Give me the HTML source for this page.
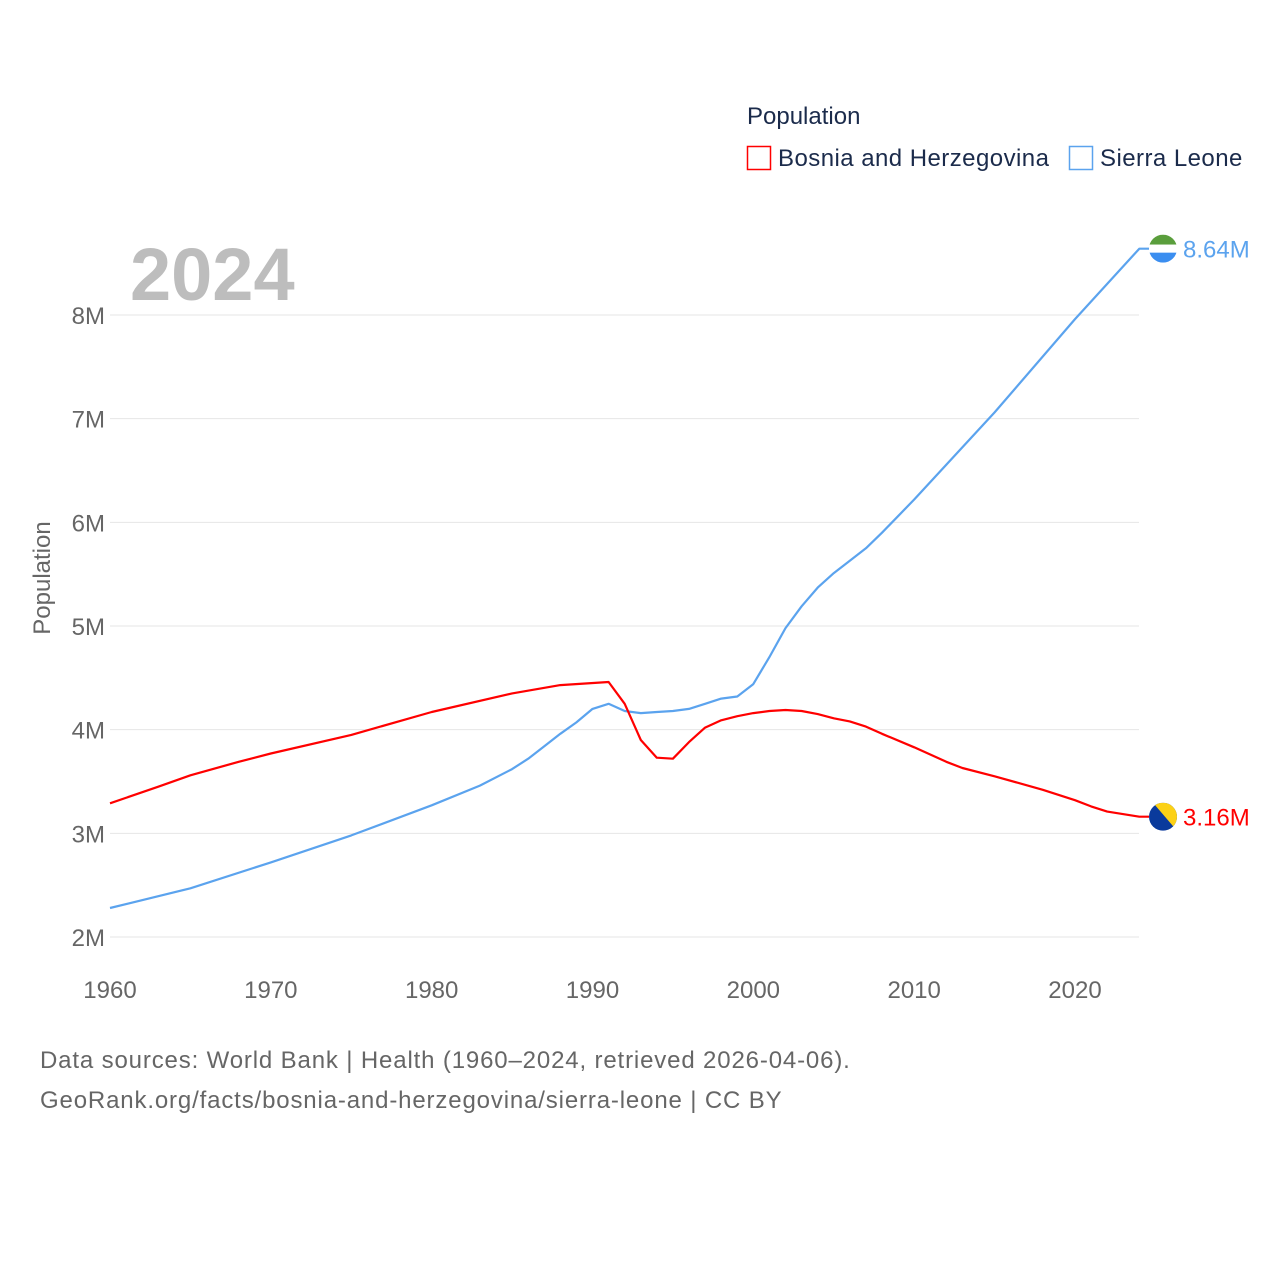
<!DOCTYPE html>
<html><head><meta charset="utf-8"><style>
body{margin:0;background:#fff;font-family:"Liberation Sans",sans-serif}
svg text{font-family:"Liberation Sans",sans-serif}
</style></head><body>
<svg id="chart" width="1280" height="1280">
<text x="747" y="124" font-size="24" fill="#1b2b4b">Population</text>
<g><rect x="747.5" y="146.5" width="23" height="23" fill="none" stroke="#f00" stroke-width="1.5"/><text x="778" y="166" font-size="24" fill="#1b2b4b" letter-spacing="0.45">Bosnia and Herzegovina</text></g>
<g><rect x="1069.5" y="146.5" width="23" height="23" fill="none" stroke="#5ba3ee" stroke-width="1.5"/><text x="1100" y="166" font-size="24" fill="#1b2b4b" letter-spacing="0.45">Sierra Leone</text></g>
<text x="130" y="300" font-size="74" font-weight="bold" fill="#bdbdbd">2024</text>
<text transform="translate(50,578) rotate(-90)" text-anchor="middle" font-size="24" fill="#666">Population</text>
<g id="grid"></g><g id="series"></g>
<text x="40" y="1068" font-size="24" fill="#666" letter-spacing="0.85">Data sources: World Bank | Health (1960–2024, retrieved 2026-04-06).</text>
<text x="40" y="1108" font-size="24" fill="#666" letter-spacing="0.85">GeoRank.org/facts/bosnia-and-herzegovina/sierra-leone | CC BY</text>
</svg>
<script>
const yTicks=[2,3,4,5,6,7,8];
const xTicks=[1960,1970,1980,1990,2000,2010,2020];
const bihYears=[1960,1963,1965,1968,1970,1975,1980,1985,1988,1991,1992,1993,1994,1995,1996,1997,1998,1999,2000,2001,2002,2003,2004,2005,2006,2007,2008,2010,2012,2013,2015,2018,2020,2021,2022,2024];
const bihValues=[3.29,3.45,3.56,3.69,3.77,3.95,4.17,4.35,4.43,4.46,4.25,3.9,3.73,3.72,3.88,4.02,4.09,4.13,4.16,4.18,4.19,4.18,4.15,4.11,4.08,4.03,3.96,3.83,3.69,3.63,3.55,3.42,3.32,3.26,3.21,3.16];
const sleYears=[1960,1965,1970,1975,1980,1983,1985,1986,1987,1988,1989,1990,1991,1992,1993,1994,1995,1996,1997,1998,1999,2000,2001,2002,2003,2004,2005,2006,2007,2008,2010,2015,2020,2024];
const sleValues=[2.28,2.47,2.72,2.98,3.27,3.46,3.62,3.72,3.84,3.96,4.07,4.2,4.25,4.18,4.16,4.17,4.18,4.2,4.25,4.3,4.32,4.44,4.7,4.98,5.19,5.37,5.51,5.63,5.75,5.9,6.22,7.06,7.96,8.64];
const endLabels=["3.16M","8.64M"];
const X=y=>110+(y-1960)*(1075-110)/60;
const Y=v=>937-(v-2)*(937-315)/6;
const NS="http://www.w3.org/2000/svg";
function mk(t,a,p){const e=document.createElementNS(NS,t);for(const k in a)e.setAttribute(k,a[k]);p.appendChild(e);return e;}
const g=document.getElementById('grid'),s=document.getElementById('series');
yTicks.forEach(v=>{
 const l=mk('line',{x1:110,x2:1139,y1:Y(v),y2:Y(v),stroke:'#e6e6e6','stroke-width':1},g);
 
 
 const t=mk('text',{x:105,y:Y(v)+9,'text-anchor':'end','font-size':24,fill:'#666'},g);
 t.textContent=v+'M';
 
 
});
xTicks.forEach(v=>{
 const t=mk('text',{x:X(v),y:998,'text-anchor':'middle','font-size':24,fill:'#666'},g);
 t.textContent=v;
 
 
});
function line(ys,vs,col,name){
 const d=ys.map((y,i)=>(i?'L':'M')+X(y).toFixed(1)+','+Y(vs[i]).toFixed(1)).join('')+'H1149';
 const p=mk('path',{d:d,fill:'none',stroke:col,'stroke-width':2.2,'stroke-linejoin':'round'},s);
 
 
}
line(sleYears,sleValues,'#5ba3ee','sierra-leone-line');
line(bihYears,bihValues,'#f00','bosnia-line');
const yb=Y(bihValues[bihValues.length-1]),ysl=Y(sleValues[sleValues.length-1]);
const defs=mk('defs',{},s);
const c1=mk('clipPath',{id:'cb'},defs);mk('circle',{cx:1163,cy:yb,r:14},c1);
const c2=mk('clipPath',{id:'cs'},defs);mk('circle',{cx:1163,cy:ysl,r:14},c2);
const fb=mk('g',{'clip-path':'url(#cb)'},s);


mk('rect',{x:1149,y:yb-14,width:28,height:28,fill:'#0a3a9c'},fb);
mk('polygon',{points:`1153,${yb-14} 1177,${yb-14} 1177,${yb+14}`,fill:'#fcd116'},fb);
const fs=mk('g',{'clip-path':'url(#cs)'},s);


mk('rect',{x:1149,y:ysl-14,width:28,height:10,fill:'#5a9e3c'},fs);
mk('rect',{x:1149,y:ysl-4,width:28,height:8,fill:'#fff'},fs);
mk('rect',{x:1149,y:ysl+4,width:28,height:10,fill:'#3b8ef0'},fs);
const tb=mk('text',{x:1183,y:yb+9,'font-size':24,fill:'#f00'},s);tb.textContent=endLabels[0];


const ts=mk('text',{x:1183,y:ysl+9,'font-size':24,fill:'#5ba3ee'},s);ts.textContent=endLabels[1];


</script>
</body></html>
